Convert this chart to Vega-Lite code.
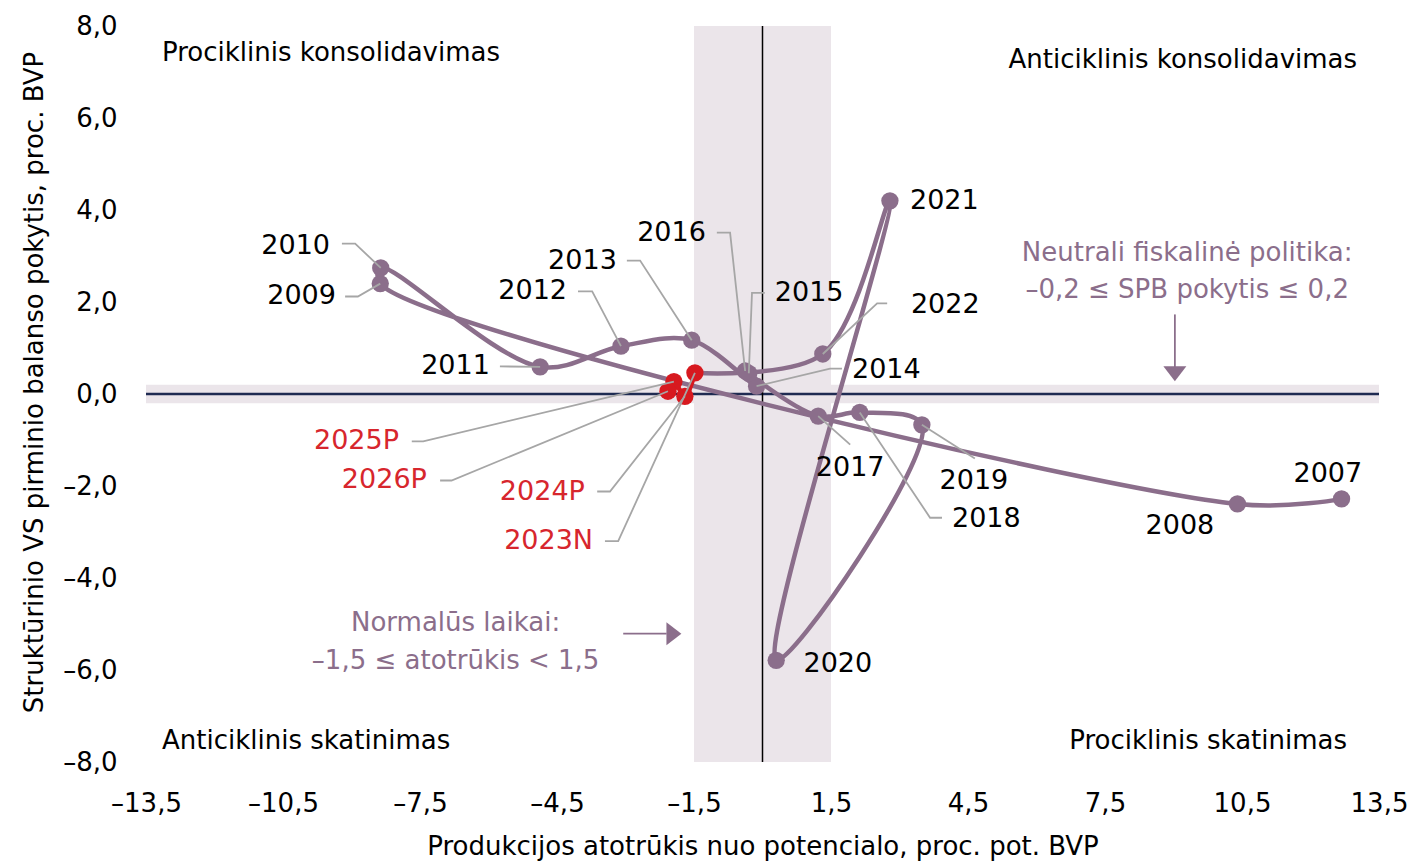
{
  "$schema": "https://vega.github.io/schema/vega-lite/v6.json",
  "width": 1233,
  "height": 736,
  "autosize": {"type": "none"},
  "padding": {"left": 146, "top": 26, "right": 35, "bottom": 102},
  "background": "white",
  "config": {
    "font": "DejaVu Sans",
    "view": {"stroke": null},
    "axis": {"labelFontSize": 26, "titleFontSize": 26, "labelColor": "#000000", "titleColor": "#000000", "titleFontWeight": "normal", "labelFont": "DejaVu Sans", "titleFont": "DejaVu Sans"}
  },
  "datasets": {
    "pts": [
      {"label": "2007", "year": 2007, "x": 12.68, "y": -2.28},
      {"label": "2008", "year": 2008, "x": 10.40, "y": -2.39},
      {"label": "2009", "year": 2009, "x": -8.37, "y": 2.40},
      {"label": "2010", "year": 2010, "x": -8.36, "y": 2.74},
      {"label": "2011", "year": 2011, "x": -4.87, "y": 0.59},
      {"label": "2012", "year": 2012, "x": -3.10, "y": 1.04},
      {"label": "2013", "year": 2013, "x": -1.55, "y": 1.17},
      {"label": "2014", "year": 2014, "x": -0.13, "y": 0.17},
      {"label": "2015", "year": 2015, "x": -0.30, "y": 0.45},
      {"label": "2016", "year": 2016, "x": -0.38, "y": 0.50},
      {"label": "2017", "year": 2017, "x": 1.22, "y": -0.48},
      {"label": "2018", "year": 2018, "x": 2.13, "y": -0.40},
      {"label": "2019", "year": 2019, "x": 3.49, "y": -0.67},
      {"label": "2020", "year": 2020, "x": 0.30, "y": -5.79},
      {"label": "2021", "year": 2021, "x": 2.79, "y": 4.20},
      {"label": "2022", "year": 2022, "x": 1.32, "y": 0.87},
      {"label": "2023N", "year": 2023, "x": -1.48, "y": 0.46},
      {"label": "2024P", "year": 2024, "x": -1.70, "y": -0.05},
      {"label": "2025P", "year": 2025, "x": -1.94, "y": 0.27},
      {"label": "2026P", "year": 2026, "x": -2.07, "y": 0.06}
    ],
    "labels": [
      {"label": "2015", "side": "start", "kind": "hist", "x": 0.27, "y": 2.20},
      {"label": "2022", "side": "start", "kind": "hist", "x": 3.25, "y": 1.94},
      {"label": "2014", "side": "start", "kind": "hist", "x": 1.96, "y": 0.53},
      {"label": "2021", "side": "start", "kind": "hist", "x": 3.23, "y": 4.19},
      {"label": "2018", "side": "start", "kind": "hist", "x": 4.15, "y": -2.71},
      {"label": "2009", "side": "end", "kind": "hist", "x": -9.34, "y": 2.12},
      {"label": "2010", "side": "end", "kind": "hist", "x": -9.47, "y": 3.21},
      {"label": "2011", "side": "end", "kind": "hist", "x": -5.97, "y": 0.60},
      {"label": "2012", "side": "end", "kind": "hist", "x": -4.28, "y": 2.23},
      {"label": "2013", "side": "end", "kind": "hist", "x": -3.19, "y": 2.90},
      {"label": "2016", "side": "end", "kind": "hist", "x": -1.24, "y": 3.51},
      {"label": "2025P", "side": "end", "kind": "proj", "x": -7.96, "y": -1.03},
      {"label": "2026P", "side": "end", "kind": "proj", "x": -7.35, "y": -1.88},
      {"label": "2024P", "side": "end", "kind": "proj", "x": -3.89, "y": -2.12},
      {"label": "2023N", "side": "end", "kind": "proj", "x": -3.71, "y": -3.20},
      {"label": "2007", "side": "center", "kind": "hist", "x": 12.38, "y": -1.73},
      {"label": "2008", "side": "center", "kind": "hist", "x": 9.14, "y": -2.88},
      {"label": "2017", "side": "center", "kind": "hist", "x": 1.92, "y": -1.60},
      {"label": "2019", "side": "center", "kind": "hist", "x": 4.63, "y": -1.90},
      {"label": "2020", "side": "center", "kind": "hist", "x": 1.65, "y": -5.86}
    ],
    "leaders": [
      {"label": "2009", "i": 1, "x": -9.14, "y": 2.12}, {"label": "2009", "i": 2, "x": -8.86, "y": 2.12}, {"label": "2009", "i": 3, "x": -8.37, "y": 2.40},
      {"label": "2010", "i": 1, "x": -9.21, "y": 3.27}, {"label": "2010", "i": 2, "x": -8.92, "y": 3.27}, {"label": "2010", "i": 3, "x": -8.36, "y": 2.74},
      {"label": "2011", "i": 1, "x": -5.75, "y": 0.60}, {"label": "2011", "i": 2, "x": -4.87, "y": 0.59},
      {"label": "2012", "i": 1, "x": -4.04, "y": 2.23}, {"label": "2012", "i": 2, "x": -3.73, "y": 2.23}, {"label": "2012", "i": 3, "x": -3.10, "y": 1.04},
      {"label": "2013", "i": 1, "x": -2.97, "y": 2.90}, {"label": "2013", "i": 2, "x": -2.68, "y": 2.90}, {"label": "2013", "i": 3, "x": -1.55, "y": 1.17},
      {"label": "2016", "i": 1, "x": -1.00, "y": 3.51}, {"label": "2016", "i": 2, "x": -0.71, "y": 3.51}, {"label": "2016", "i": 3, "x": -0.38, "y": 0.50},
      {"label": "2015", "i": 1, "x": 0.05, "y": 2.20}, {"label": "2015", "i": 2, "x": -0.23, "y": 2.20}, {"label": "2015", "i": 3, "x": -0.30, "y": 0.45},
      {"label": "2022", "i": 1, "x": 2.73, "y": 1.97}, {"label": "2022", "i": 2, "x": 2.51, "y": 1.97}, {"label": "2022", "i": 3, "x": 1.32, "y": 0.87},
      {"label": "2014", "i": 1, "x": 1.74, "y": 0.55}, {"label": "2014", "i": 2, "x": 1.48, "y": 0.55}, {"label": "2014", "i": 3, "x": -0.13, "y": 0.17},
      {"label": "2017", "i": 1, "x": 1.92, "y": -1.10}, {"label": "2017", "i": 2, "x": 1.22, "y": -0.48},
      {"label": "2019", "i": 1, "x": 4.65, "y": -1.40}, {"label": "2019", "i": 2, "x": 3.49, "y": -0.67},
      {"label": "2018", "i": 1, "x": 3.93, "y": -2.69}, {"label": "2018", "i": 2, "x": 3.67, "y": -2.69}, {"label": "2018", "i": 3, "x": 2.13, "y": -0.40},
      {"label": "2025P", "i": 1, "x": -7.68, "y": -1.03}, {"label": "2025P", "i": 2, "x": -7.43, "y": -1.03}, {"label": "2025P", "i": 3, "x": -1.94, "y": 0.27},
      {"label": "2026P", "i": 1, "x": -7.06, "y": -1.88}, {"label": "2026P", "i": 2, "x": -6.81, "y": -1.88}, {"label": "2026P", "i": 3, "x": -2.07, "y": 0.06},
      {"label": "2024P", "i": 1, "x": -3.62, "y": -2.12}, {"label": "2024P", "i": 2, "x": -3.34, "y": -2.12}, {"label": "2024P", "i": 3, "x": -1.70, "y": -0.05},
      {"label": "2023N", "i": 1, "x": -3.45, "y": -3.20}, {"label": "2023N", "i": 2, "x": -3.16, "y": -3.20}, {"label": "2023N", "i": 3, "x": -1.48, "y": 0.46}
    ],
    "quadrants": [
      {"t": "Prociklinis konsolidavimas", "side": "start", "x": -13.15, "y": 7.23},
      {"t": "Anticiklinis skatinimas", "side": "start", "x": -13.15, "y": -7.71},
      {"t": "Anticiklinis konsolidavimas", "side": "end", "x": 13.02, "y": 7.08},
      {"t": "Prociklinis skatinimas", "side": "end", "x": 12.80, "y": -7.71}
    ],
    "notes": [
      {"t": "Neutrali fiskalinė politika:", "x": 9.3, "y": 2.89},
      {"t": "–0,2 ≤ SPB pokytis ≤ 0,2", "x": 9.3, "y": 2.09},
      {"t": "Normalūs laikai:", "x": -6.72, "y": -5.16},
      {"t": "–1,5 ≤ atotrūkis < 1,5", "x": -6.72, "y": -5.97}
    ]
  },
  "encoding": {
    "x": {
      "field": "x", "type": "quantitative",
      "scale": {"domain": [-13.5, 13.5], "nice": false, "zero": false},
      "axis": {
        "values": [-13.5, -10.5, -7.5, -4.5, -1.5, 1.5, 4.5, 7.5, 10.5, 13.5],
        "labelExpr": "(datum.value < 0 ? '–' : '') + replace(format(abs(datum.value), '.1f'), '.', ',')",
        "title": "Produkcijos atotrūkis nuo potencialo, proc. pot. BVP",
        "domain": false, "ticks": false, "tickSize": 0, "grid": false,
        "labelPadding": 49, "labelBaseline": "alphabetic", "labelFlush": false, "labelOverlap": false,
        "titleX": 616.5, "titleY": 92.5, "titleBaseline": "alphabetic", "titleAlign": "center"
      }
    },
    "y": {
      "field": "y", "type": "quantitative",
      "scale": {"domain": [-8, 8], "nice": false, "zero": false},
      "axis": {
        "values": [-8, -6, -4, -2, 0, 2, 4, 6, 8],
        "labelExpr": "(datum.value < 0 ? '–' : '') + replace(format(abs(datum.value), '.1f'), '.', ',')",
        "title": "Struktūrinio VS pirminio balanso pokytis, proc. BVP",
        "domain": false, "ticks": false, "tickSize": 0, "grid": false,
        "labelPadding": 29, "labelBaseline": "middle", "labelFlush": false, "labelOverlap": false,
        "titleX": -103.5, "titleY": 356, "titleBaseline": "alphabetic", "titleAlign": "center", "titleAngle": 270
      }
    }
  },
  "layer": [
    {
      "data": {"values": [{"x": -1.5, "x2": 1.5, "y": -8, "y2": 8}, {"x": -13.5, "x2": 13.5, "y": -0.2, "y2": 0.2}]},
      "mark": {"type": "rect", "color": "#ebe5ea"},
      "encoding": {"x2": {"field": "x2"}, "y2": {"field": "y2"}}
    },
    {
      "data": {"values": [{"x": -13.5, "x2": 13.5, "y": 0}]},
      "mark": {"type": "rule", "color": "#1f2b52", "strokeWidth": 2.5},
      "encoding": {"x2": {"field": "x2"}}
    },
    {
      "data": {"values": [{"x": 0, "y": -8, "y2": 8}]},
      "mark": {"type": "rule", "color": "#000000", "strokeWidth": 1.5},
      "encoding": {"y2": {"field": "y2"}}
    },
    {
      "data": {"name": "pts"},
      "transform": [{"filter": "datum.year <= 2023"}],
      "mark": {"type": "line", "interpolate": "catmull-rom", "strokeWidth": 4.5, "color": "#8b6e8b"},
      "encoding": {"order": {"field": "year", "type": "quantitative"}}
    },
    {
      "data": {"name": "pts"},
      "transform": [{"filter": "datum.year >= 2023"}],
      "mark": {"type": "line", "interpolate": "catmull-rom", "strokeWidth": 4.5, "color": "#d7191f"},
      "encoding": {"order": {"field": "year", "type": "quantitative"}}
    },
    {
      "data": {"name": "pts"},
      "transform": [{"filter": "datum.year <= 2022"}],
      "mark": {"type": "circle", "size": 300, "opacity": 1, "color": "#8b6e8b"},
      "encoding": {}
    },
    {
      "data": {"name": "pts"},
      "transform": [{"filter": "datum.year >= 2023"}],
      "mark": {"type": "circle", "size": 300, "opacity": 1, "color": "#d7191f"},
      "encoding": {}
    },
    {
      "data": {"name": "leaders"},
      "mark": {"type": "line", "color": "#a6a6a6", "strokeWidth": 1.8},
      "encoding": {"detail": {"field": "label"}, "order": {"field": "i", "type": "quantitative"}}
    },
    {
      "data": {"values": [{"x": 9.03, "x2": 9.03, "y": 1.73, "y2": 0.55}, {"x": -3.05, "x2": -2.1, "y": -5.21, "y2": -5.21}]},
      "mark": {"type": "rule", "color": "#8b6e8b", "strokeWidth": 1.8},
      "encoding": {"x2": {"field": "x2"}, "y2": {"field": "y2"}}
    },
    {
      "data": {"values": [{"x": 9.03, "y": 0.44}]},
      "mark": {"type": "point", "shape": "M-1,-0.65L1,-0.65L0,0.65Z", "size": 529, "filled": true, "opacity": 1, "color": "#8b6e8b"},
      "encoding": {}
    },
    {
      "data": {"values": [{"x": -1.94, "y": -5.21}]},
      "mark": {"type": "point", "shape": "M-0.65,-1L0.65,0L-0.65,1Z", "size": 529, "filled": true, "opacity": 1, "color": "#8b6e8b"},
      "encoding": {}
    },
    {
      "data": {"name": "labels"},
      "transform": [{"filter": "datum.side == 'start'"}],
      "mark": {"type": "text", "align": "left", "baseline": "middle", "fontSize": 27},
      "encoding": {"text": {"field": "label"}, "color": {"field": "kind", "type": "nominal", "scale": {"domain": ["hist", "proj"], "range": ["#000000", "#d7262d"]}, "legend": null}}
    },
    {
      "data": {"name": "labels"},
      "transform": [{"filter": "datum.side == 'end'"}],
      "mark": {"type": "text", "align": "right", "baseline": "middle", "fontSize": 27},
      "encoding": {"text": {"field": "label"}, "color": {"field": "kind", "type": "nominal", "scale": {"domain": ["hist", "proj"], "range": ["#000000", "#d7262d"]}, "legend": null}}
    },
    {
      "data": {"name": "labels"},
      "transform": [{"filter": "datum.side == 'center'"}],
      "mark": {"type": "text", "align": "center", "baseline": "middle", "fontSize": 27},
      "encoding": {"text": {"field": "label"}, "color": {"field": "kind", "type": "nominal", "scale": {"domain": ["hist", "proj"], "range": ["#000000", "#d7262d"]}, "legend": null}}
    },
    {
      "data": {"name": "quadrants"},
      "transform": [{"filter": "datum.side == 'start'"}],
      "mark": {"type": "text", "align": "left", "baseline": "alphabetic", "fontSize": 26, "color": "#000000"},
      "encoding": {"text": {"field": "t"}}
    },
    {
      "data": {"name": "quadrants"},
      "transform": [{"filter": "datum.side == 'end'"}],
      "mark": {"type": "text", "align": "right", "baseline": "alphabetic", "fontSize": 26, "color": "#000000"},
      "encoding": {"text": {"field": "t"}}
    },
    {
      "data": {"name": "notes"},
      "mark": {"type": "text", "align": "center", "baseline": "alphabetic", "fontSize": 26, "color": "#8b6e8b"},
      "encoding": {"text": {"field": "t"}}
    }
  ]
}
